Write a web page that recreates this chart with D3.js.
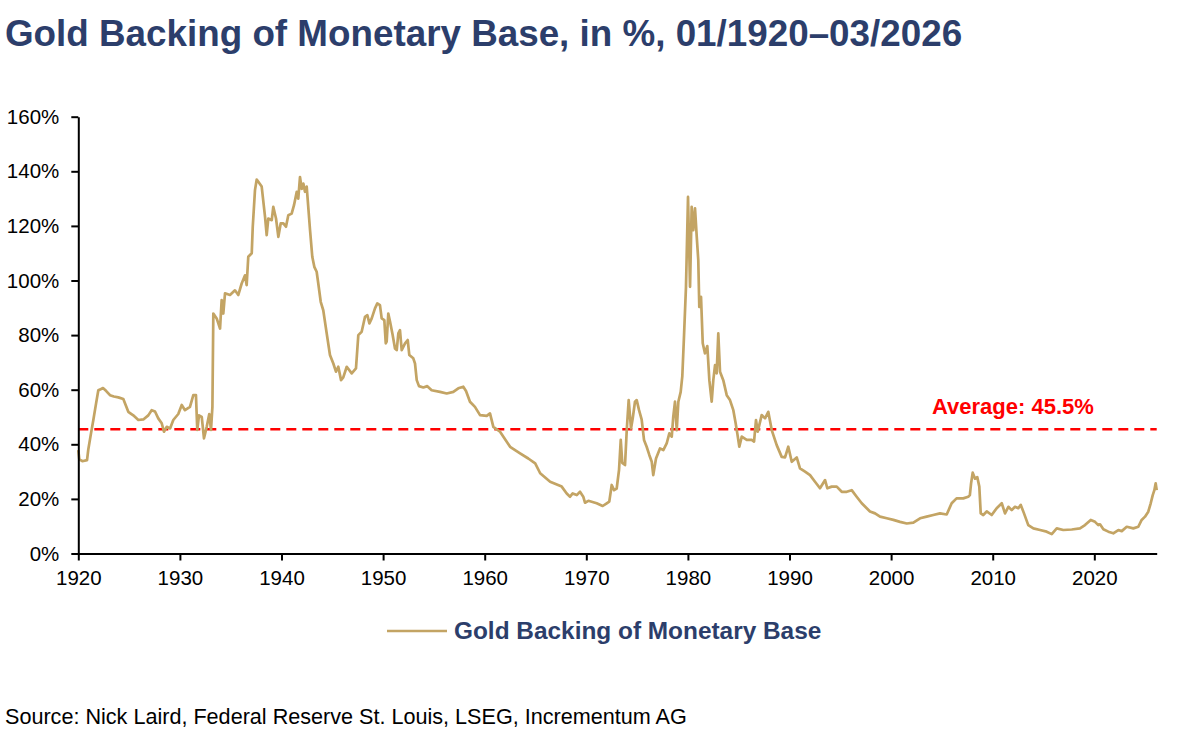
<!DOCTYPE html>
<html>
<head>
<meta charset="utf-8">
<script src="https://cdn.jsdelivr.net/npm/d3@7"></script>
<style>
  body { margin: 0; background: #fff; }
  svg { display: block; font-family: "Liberation Sans", Arial, sans-serif; }
</style>
</head>
<body>
<svg width="1200" height="740"></svg>
<script>
// decimal year of each reading, 01/1920 - 03/2026
var dates = [
  1920.00, 1920.10, 1920.40, 1920.86, 1920.98, 1921.25, 1921.48, 1921.75, 1921.97, 1922.20,
  1922.43, 1922.75, 1923.12, 1923.50, 1923.94, 1924.43, 1924.70, 1924.92, 1925.41, 1925.91,
  1926.40, 1926.89, 1927.22, 1927.55, 1927.87, 1928.21, 1928.43, 1928.70, 1929.03, 1929.35,
  1929.84, 1930.18, 1930.50, 1930.99, 1931.32, 1931.58, 1931.71, 1931.88, 1932.15, 1932.37,
  1932.64, 1932.89, 1933.06, 1933.20, 1933.29, 1933.62, 1933.95, 1934.11, 1934.27, 1934.44,
  1934.93, 1935.42, 1935.75, 1936.08, 1936.41, 1936.57, 1936.73, 1937.07, 1937.17, 1937.39,
  1937.56, 1938.05, 1938.38, 1938.54, 1938.70, 1939.04, 1939.19, 1939.46, 1939.69, 1939.92,
  1940.18, 1940.44, 1940.67, 1941.00, 1941.23, 1941.50, 1941.65, 1941.82, 1941.99, 1942.15,
  1942.31, 1942.48, 1942.81, 1943.03, 1943.23, 1943.46, 1943.62, 1943.86, 1944.11, 1944.45,
  1944.77, 1945.10, 1945.36, 1945.59, 1945.86, 1946.08, 1946.42, 1946.91, 1947.33, 1947.56,
  1947.89, 1948.22, 1948.45, 1948.65, 1948.88, 1949.20, 1949.43, 1949.69, 1949.86, 1950.12,
  1950.26, 1950.35, 1950.51, 1950.68, 1950.94, 1951.17, 1951.34, 1951.50, 1951.66, 1951.83,
  1952.16, 1952.42, 1952.58, 1952.97, 1953.14, 1953.31, 1953.53, 1953.96, 1954.35, 1954.78,
  1955.60, 1956.26, 1956.91, 1957.40, 1957.89, 1958.16, 1958.55, 1959.04, 1959.54, 1960.20,
  1960.52, 1960.85, 1961.51, 1962.50, 1963.48, 1964.29, 1964.97, 1965.46, 1966.44, 1967.58,
  1968.07, 1968.40, 1968.66, 1969.06, 1969.38, 1969.70, 1969.87, 1970.20, 1971.02, 1971.61,
  1972.01, 1972.26, 1972.50, 1972.73, 1972.99, 1973.22, 1973.39, 1973.54, 1973.81, 1973.98,
  1974.17, 1974.40, 1974.57, 1974.79, 1974.96, 1975.19, 1975.45, 1975.68, 1975.94, 1976.20,
  1976.44, 1976.59, 1976.86, 1977.25, 1977.58, 1977.91, 1978.17, 1978.41, 1978.56, 1978.73,
  1978.90, 1979.06, 1979.29, 1979.45, 1979.62, 1979.81, 1980.01, 1980.21, 1980.37, 1980.53,
  1980.70, 1980.87, 1981.02, 1981.12, 1981.29, 1981.46, 1981.68, 1981.91, 1982.11, 1982.34,
  1982.50, 1982.67, 1982.83, 1982.99, 1983.16, 1983.48, 1983.82, 1984.14, 1984.47, 1984.70,
  1984.86, 1985.06, 1985.30, 1985.79, 1986.28, 1986.51, 1986.70, 1986.87, 1987.26, 1987.59,
  1987.91, 1988.25, 1988.74, 1989.23, 1989.56, 1989.88, 1990.22, 1990.71, 1991.03, 1991.53,
  1992.02, 1992.51, 1993.00, 1993.50, 1993.72, 1994.15, 1994.65, 1995.14, 1995.63, 1996.12,
  1996.61, 1997.11, 1997.60, 1997.92, 1998.42, 1998.91, 1999.57, 2000.22, 2000.88, 2001.54,
  2002.19, 2002.85, 2003.50, 2004.15, 2004.81, 2005.47, 2005.96, 2006.44, 2007.10, 2007.59,
  2007.75, 2007.87, 2008.03, 2008.26, 2008.48, 2008.68, 2008.82, 2009.07, 2009.41, 2009.90,
  2010.39, 2010.89, 2011.21, 2011.54, 2011.87, 2012.19, 2012.52, 2012.76, 2013.08, 2013.50,
  2014.00, 2014.66, 2015.31, 2015.81, 2016.30, 2016.95, 2017.78, 2018.59, 2019.08, 2019.65,
  2020.07, 2020.39, 2020.56, 2020.89, 2021.38, 2021.87, 2022.36, 2022.70, 2023.19, 2023.84,
  2024.33, 2024.66, 2024.99, 2025.31, 2025.55, 2025.75, 2025.91, 2026.04, 2026.14
];

// gold backing of the monetary base, in %
var backing = [
  37.9, 34.5, 33.8, 34.2, 38.0, 44.0, 48.9, 55.0, 59.8, 60.2,
  60.6, 59.5, 58.0, 57.5, 57.2, 56.6, 54.0, 51.9, 50.6, 48.9,
  49.1, 50.6, 52.5, 52.0, 49.5, 47.7, 44.6, 46.4, 45.8, 48.9,
  51.1, 54.4, 52.5, 53.7, 58.0, 58.0, 45.3, 50.6, 50.0, 42.2,
  46.4, 51.1, 45.3, 53.7, 87.9, 86.1, 82.4, 92.8, 87.9, 95.3,
  94.7, 96.4, 94.7, 98.9, 101.9, 98.3, 108.7, 110.0, 119.7, 133.1,
  137.0, 134.4, 123.3, 116.6, 122.7, 122.1, 127.0, 122.7, 116.0, 120.9,
  120.9, 119.7, 123.9, 124.5, 127.6, 132.5, 130.0, 137.9, 133.6, 135.5,
  132.5, 134.4, 118.4, 108.7, 105.0, 103.2, 98.9, 92.2, 89.1, 80.6,
  72.7, 69.6, 66.6, 68.4, 63.5, 64.5, 68.4, 66.0, 67.8, 80.0,
  81.2, 86.7, 87.3, 84.3, 86.1, 89.8, 91.6, 91.0, 86.1, 85.5,
  77.0, 77.6, 87.9, 85.0, 80.0, 75.1, 74.5, 80.6, 81.8, 74.5,
  77.0, 78.2, 72.7, 71.5, 69.6, 63.5, 61.3, 60.8, 61.3, 59.8,
  59.2, 58.6, 59.2, 60.5, 61.1, 59.5, 55.6, 53.7, 50.7, 50.4,
  51.3, 46.4, 44.6, 39.1, 36.7, 34.8, 33.0, 29.4, 26.3, 24.5,
  22.0, 20.8, 22.0, 21.4, 22.6, 20.8, 18.6, 19.3, 18.4, 17.4,
  18.4, 19.0, 25.1, 23.2, 23.8, 30.6, 41.6, 33.2, 32.4, 45.2,
  56.2, 45.8, 49.5, 55.6, 56.2, 52.5, 49.0, 41.6, 39.1, 36.1,
  33.6, 28.7, 34.8, 38.5, 37.9, 40.3, 44.0, 42.8, 50.1, 55.6,
  45.2, 55.6, 59.2, 65.0, 80.0, 97.7, 130.6, 97.7, 127.0, 118.4,
  126.4, 116.0, 107.5, 90.3, 94.0, 77.0, 73.3, 76.0, 63.5, 55.6,
  63.5, 69.0, 66.0, 80.6, 66.6, 63.5, 58.0, 56.2, 52.5, 47.7,
  44.0, 39.1, 42.8, 41.6, 41.6, 41.0, 48.9, 44.6, 50.7, 49.5,
  51.9, 45.2, 39.7, 35.4, 35.2, 39.1, 33.6, 35.2, 31.2, 30.0,
  28.7, 26.3, 23.9, 26.9, 23.9, 24.5, 24.5, 22.6, 22.6, 23.2,
  20.8, 18.4, 16.6, 15.4, 14.7, 13.5, 12.9, 12.3, 11.6, 11.0,
  11.3, 12.9, 13.5, 14.1, 14.7, 14.3, 18.4, 20.2, 20.2, 20.8,
  21.4, 25.7, 29.6, 27.4, 28.0, 24.5, 14.7, 14.1, 15.4, 14.1,
  16.6, 18.4, 14.7, 17.1, 15.9, 17.1, 16.6, 17.8, 14.7, 10.4,
  9.2, 8.6, 8.0, 7.1, 9.2, 8.6, 8.8, 9.2, 10.4, 12.3,
  11.6, 10.4, 10.7, 8.9, 8.0, 7.4, 8.6, 8.2, 9.8, 9.2,
  9.8, 12.3, 13.5, 15.3, 18.4, 21.4, 23.2, 25.7, 23.2
];

var average = 45.5;
var yTicks = [0, 20, 40, 60, 80, 100, 120, 140, 160];
var xTicks = [1920, 1930, 1940, 1950, 1960, 1970, 1980, 1990, 2000, 2010, 2020];

var gold = "#c3a464", navy = "#2c3e6b";

var svg = d3.select("svg");

var x = d3.scaleLinear().domain([1920, 2026.14]).range([78.3, 1156.7]);
var y = d3.scaleLinear().domain([0, 160]).range([553.5, 116.7]);

var points = dates.map(function(d, i) { return [d, backing[i]]; });

// title
svg.append("text")
  .attr("x", 5).attr("y", 46)
  .attr("font-size", 36.8).attr("font-weight", "bold")
  .attr("fill", navy)
  .text("Gold Backing of Monetary Base, in %, 01/1920\u201303/2026");

// average line
svg.append("line")
  .attr("x1", x(1920)).attr("x2", x(2026.14))
  .attr("y1", y(average)).attr("y2", y(average))
  .attr("stroke", "#ff0000").attr("stroke-width", 2.5)
  .attr("stroke-dasharray", "10,6");

svg.append("text")
  .attr("x", 932).attr("y", 414)
  .attr("font-size", 22).attr("font-weight", "bold")
  .attr("fill", "#ff0000")
  .text("Average: " + average + "%");

// series
var line = d3.line()
  .x(function(d) { return x(d[0]); })
  .y(function(d) { return y(d[1]); });

svg.append("path")
  .datum(points)
  .attr("fill", "none")
  .attr("stroke", gold)
  .attr("stroke-width", 2.7)
  .attr("stroke-linejoin", "round")
  .attr("d", line);

// axes
var yAxis = svg.append("g")
  .attr("transform", "translate(" + x(1920) + ",0)")
  .call(d3.axisLeft(y).tickValues(yTicks).tickSize(7).tickSizeOuter(0).tickPadding(12)
    .tickFormat(function(d) { return d + "%"; }));

var xAxis = svg.append("g")
  .attr("transform", "translate(0," + y(0) + ")")
  .call(d3.axisBottom(x).tickValues(xTicks).tickSize(7).tickSizeOuter(0).tickPadding(10)
    .tickFormat(d3.format("d")));

[yAxis, xAxis].forEach(function(g) {
  g.select(".domain").attr("stroke", "#000").attr("stroke-width", 2);
  g.selectAll(".tick line").attr("stroke", "#000").attr("stroke-width", 2);
  g.selectAll(".tick text")
    .attr("font-family", "Liberation Sans, Arial, sans-serif")
    .attr("font-size", 20.5).attr("fill", "#000");
});

// legend
svg.append("line")
  .attr("x1", 387).attr("x2", 447)
  .attr("y1", 631).attr("y2", 631)
  .attr("stroke", gold).attr("stroke-width", 2.5);

svg.append("text")
  .attr("x", 454).attr("y", 639)
  .attr("font-size", 24.4).attr("font-weight", "bold")
  .attr("fill", navy)
  .text("Gold Backing of Monetary Base");

// source
svg.append("text")
  .attr("x", 5).attr("y", 724)
  .attr("font-size", 21.6).attr("fill", "#000")
  .text("Source: Nick Laird, Federal Reserve St. Louis, LSEG, Incrementum AG");
</script>
</body>
</html>
